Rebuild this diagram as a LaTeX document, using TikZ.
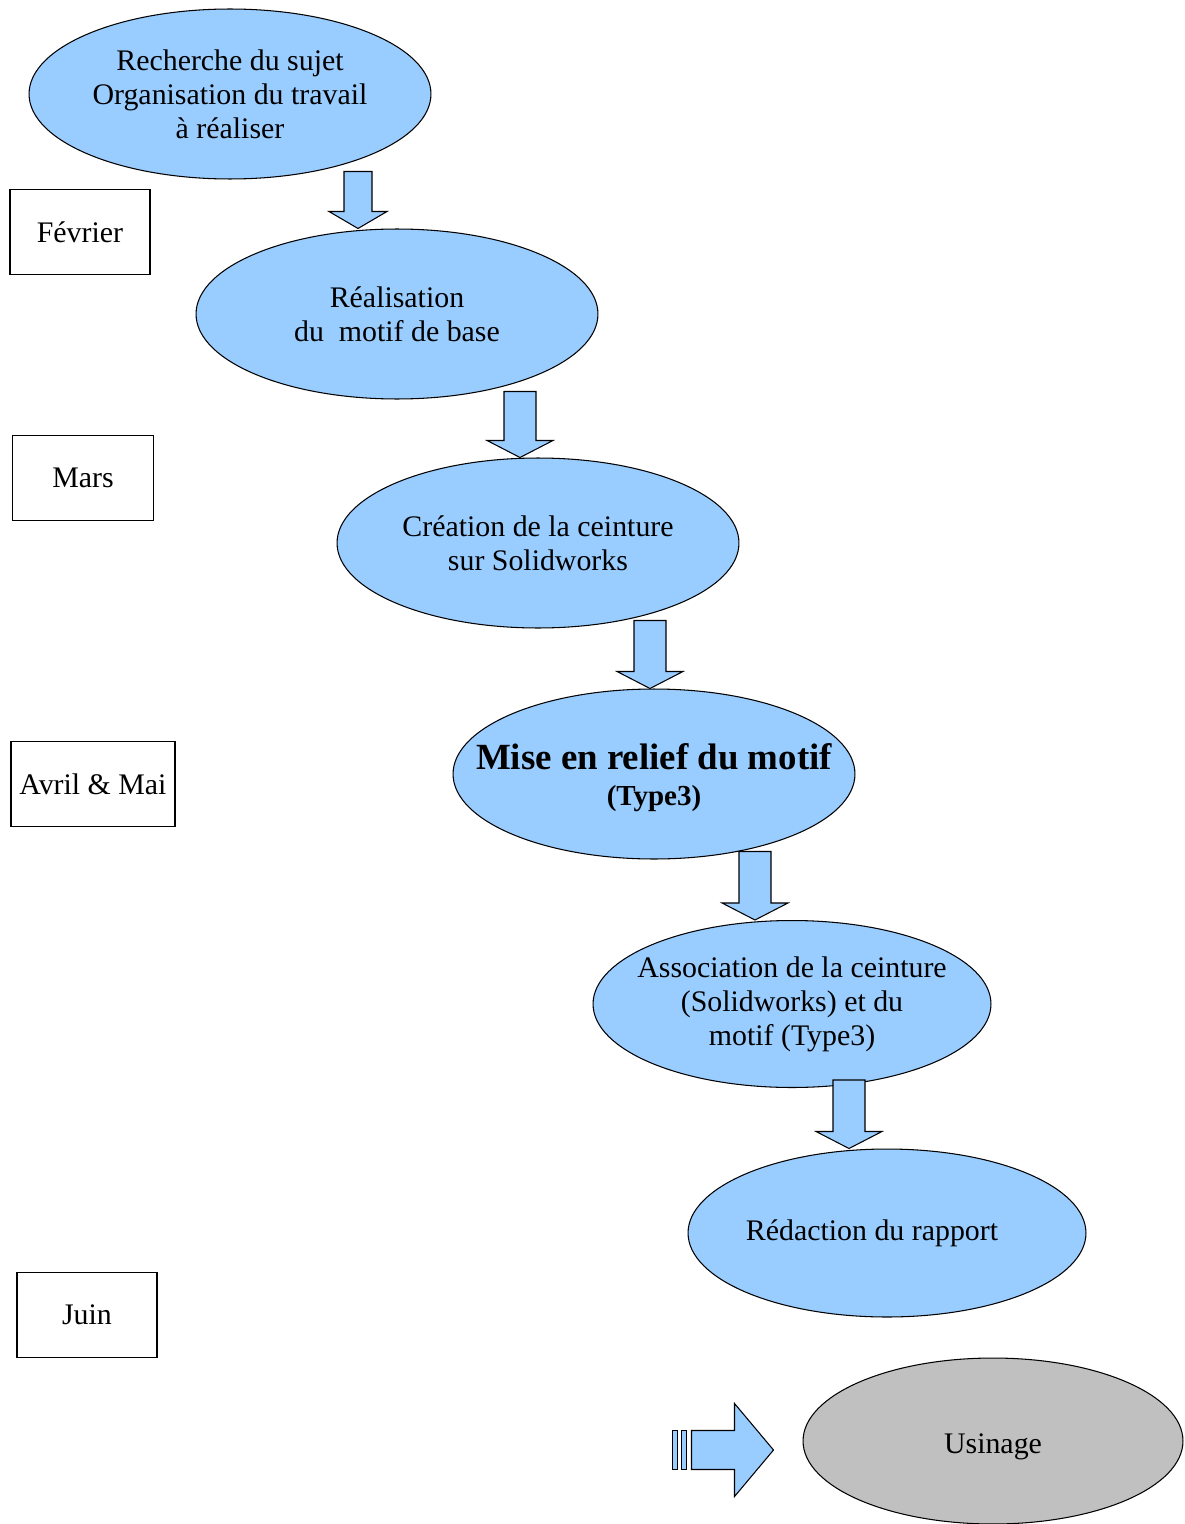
\documentclass[tikz,border=0pt]{standalone}
\usepackage{fontspec}
\setmainfont{Liberation Serif}
\usetikzlibrary{shapes.geometric}
\definecolor{taskblue}{HTML}{99CCFF}
\definecolor{taskgray}{HTML}{C0C0C0}
% block arrow from the bottom of one task down to the top of the next
\newcommand{\flowdown}[4][16]{%
  \path (#2,0 |- #3.south) coordinate (top) (#2,0 |- #4.north) coordinate (tip);
  \draw[blockarrow] ([shift={(-#1,-8)}]top) -- ([shift={(#1,-8)}]top)
    -- ([shift={(#1,-17)}]tip) -- ([shift={({2*#1+1},-17)}]tip) -- (tip)
    -- ([shift={({-2*#1-1},-17)}]tip) -- ([shift={(-#1,-17)}]tip) -- cycle;
}

\begin{document}
\begin{tikzpicture}[x=0.02cm, y=-0.02cm]
  \tikzset{task/.style={ellipse, draw, fill=taskblue, line width=0.6pt,
      minimum width=8.04cm, minimum height=3.4cm, inner sep=-1.8cm, align=center,
      font=\fontsize{17}{19.4}\selectfont},
    monthbox/.style={draw, line width=0.7pt, minimum width=2.8cm, minimum height=1.7cm,
      inner sep=0pt, font=\fontsize{17}{19.4}\selectfont},
    blockarrow/.style={draw, fill=taskblue, line width=0.6pt, line join=miter}}
  \useasboundingbox (0,0) rectangle (1184,1524);

  \node[task] (sujet) at (230,94) {Recherche du sujet\\Organisation du travail\\à réaliser};
  \node[task] (motif) at (397,314) {Réalisation\\du~ motif de base};
  \node[task] (ceinture) at (538,543) {Création de la ceinture\\sur Solidworks};
  \node[task] (relief) at (654,774)
    {\raisebox{-0.12cm}[\height][\depth]{\fontsize{21}{21}\selectfont\bfseries
     \begin{tabular}{@{}c@{}}Mise en relief du motif\\
     \fontsize{16.5}{19}\selectfont\bfseries (Type3)\end{tabular}}};
  \node[task, minimum width=7.96cm, minimum height=3.34cm] (assoc) at (792,1004)
    {Association de la ceinture\\(Solidworks) et du\\motif (Type3)};
  \node[task, minimum width=7.96cm, minimum height=3.36cm] (rapport) at (887,1233)
    {Rédaction du rapport\hspace*{0.6cm}};
  \node[task, fill=taskgray, minimum width=7.6cm, minimum height=3.32cm] (usinage) at (993,1441)
    {\raisebox{-0.12cm}[\height][\depth]{Usinage}};

  \node[monthbox] (fevrier) at (80,232) {Février};
  \node[monthbox, minimum width=2.82cm] (mars) at (83,478) {Mars};
  \node[monthbox, minimum width=3.28cm] (avril) at (93,784) {Avril \& Mai};
  \node[monthbox] (juin) at (87,1315) {Juin};

  \flowdown[14]{358}{sujet}{motif}
  \flowdown{520}{motif}{ceinture}
  \flowdown{650}{ceinture}{relief}
  \flowdown{755}{relief}{assoc}
  \flowdown{849}{assoc}{rapport}

  \coordinate (feed) at ([shift={(-29,9)}]usinage.west);
  \draw[blockarrow] ([shift={(-101,-19.5)}]feed) rectangle ([shift={(-96,19.5)}]feed);
  \draw[blockarrow] ([shift={(-92,-19.5)}]feed) rectangle ([shift={(-87,19.5)}]feed);
  \draw[blockarrow] ([shift={(-82,-19.5)}]feed) -- ([shift={(-39,-19.5)}]feed)
    -- ([shift={(-39,-46.5)}]feed) -- (feed) -- ([shift={(-39,46.5)}]feed)
    -- ([shift={(-39,19.5)}]feed) -- ([shift={(-82,19.5)}]feed) -- cycle;
\end{tikzpicture}
\end{document}
